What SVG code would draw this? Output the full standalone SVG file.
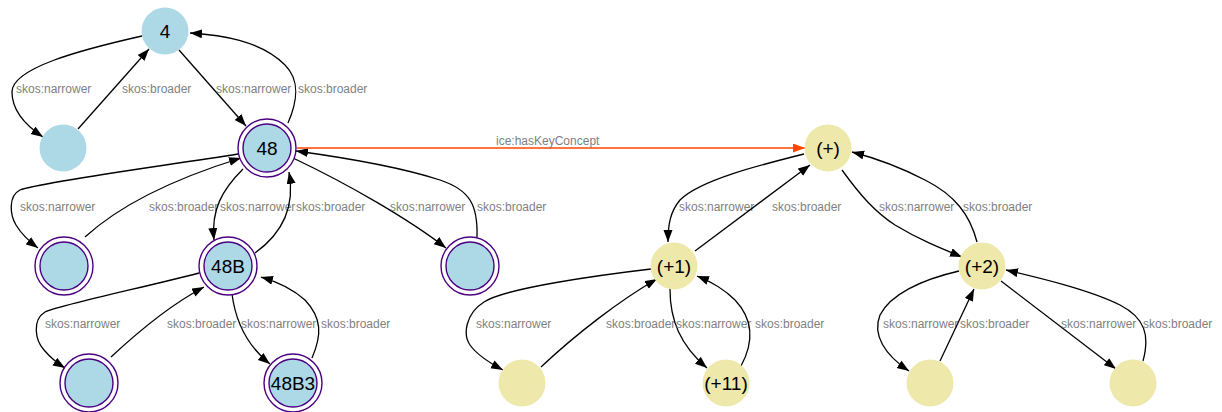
<svg xmlns="http://www.w3.org/2000/svg" width="1222" height="412" viewBox="0 0 1222 412">
<style>
.e{fill:none;stroke:#000;stroke-width:1.3;marker-end:url(#ah)}
.ek{fill:none;stroke:#ff4500;stroke-width:1.5;marker-end:url(#ao)}
.el{font-family:"Liberation Sans",Arial,sans-serif;font-size:12px;fill:#7f7f7f}
.b{fill:#add8e6;stroke:none}
.y{fill:#eee8aa;stroke:none}
.ro{fill:#fff;stroke:#4b0082;stroke-width:1.4}
.ri{fill:#add8e6;stroke:#4b0082;stroke-width:1.4}
.t{font-family:"Liberation Sans",Arial,sans-serif;font-size:19px;fill:#000;text-anchor:middle}
</style>
<defs>
<marker id="ah" markerUnits="userSpaceOnUse" markerWidth="13" markerHeight="10" refX="12" refY="4.5" orient="auto"><path d="M0,0 L12,4.5 L0,9 z" fill="#000"/></marker>
<marker id="ao" markerUnits="userSpaceOnUse" markerWidth="13" markerHeight="10" refX="12" refY="4.5" orient="auto"><path d="M0,0 L12,4.5 L0,9 z" fill="#ff4500"/></marker>
</defs>
<rect width="1222" height="412" fill="#fff"/>
<g id="connectors">
<path class="e" d="M142,36 C80,50 12,68 12,92 C12,110 25,125 43,137"/>
<text class="el" x="16" y="93">skos:narrower</text>
<path class="e" d="M78,129 L149,49"/>
<text class="el" x="122" y="93">skos:broader</text>
<path class="e" d="M179,50 L246,126"/>
<text class="el" x="216" y="93">skos:narrower</text>
<path class="e" d="M288,123 C298,100 300,80 285,65 C260,40 220,35 190,33"/>
<text class="el" x="298" y="93">skos:broader</text>
<path class="e" d="M238,154 C170,165 40,182 20,190 C8,196 10,215 16,225 C22,235 30,242 38,248"/>
<text class="el" x="20" y="211">skos:narrower</text>
<path class="e" d="M85,237 C120,205 170,180 241,158"/>
<text class="el" x="149" y="211">skos:broader</text>
<path class="e" d="M243,169 C222,190 211,210 214,240"/>
<text class="el" x="220" y="211">skos:narrower</text>
<path class="e" d="M255,253 C280,235 296,210 289,172"/>
<text class="el" x="296" y="211">skos:broader</text>
<path class="e" d="M293,158 C350,185 410,220 446,248"/>
<text class="el" x="390" y="211">skos:narrower</text>
<path class="e" d="M477,237 C478,205 470,190 440,180 C400,167 340,157 296,151"/>
<text class="el" x="477" y="211">skos:broader</text>
<path class="e" d="M199,273 C150,286 60,305 45,312 C32,320 35,340 44,350 C50,357 57,363 65,368"/>
<text class="el" x="45" y="328">skos:narrower</text>
<path class="e" d="M111,357 C140,330 170,305 204,287"/>
<text class="el" x="167" y="328">skos:broader</text>
<path class="e" d="M232,294 C236,325 250,348 270,364"/>
<text class="el" x="241" y="328">skos:narrower</text>
<path class="e" d="M312,358 C322,335 322,318 305,300 C292,288 275,281 261,277"/>
<text class="el" x="321" y="328">skos:broader</text>
<path class="ek" d="M297,148 L805,148"/>
<text class="el" x="496" y="145">ice:hasKeyConcept</text>
<path class="e" d="M804,154 C760,165 700,180 680,200 C670,212 668,225 668,242"/>
<text class="el" x="679" y="211">skos:narrower</text>
<path class="e" d="M695,251 L810,165"/>
<text class="el" x="772" y="211">skos:broader</text>
<path class="e" d="M842,170 C860,195 875,212 895,225 C920,240 940,248 962,257"/>
<text class="el" x="879" y="211">skos:narrower</text>
<path class="e" d="M977,242 C970,215 955,195 925,180 C900,167 875,158 852,152"/>
<text class="el" x="963" y="211">skos:broader</text>
<path class="e" d="M651,269 C600,275 505,288 484,302 C465,314 463,335 470,345 C477,355 488,362 503,370"/>
<text class="el" x="476" y="328">skos:narrower</text>
<path class="e" d="M541,367 C575,335 620,300 657,279"/>
<text class="el" x="606" y="328">skos:broader</text>
<path class="e" d="M670,289 C670,320 680,345 707,368"/>
<text class="el" x="676" y="328">skos:narrower</text>
<path class="e" d="M741,366 C755,340 752,318 735,300 C725,290 712,282 697,276"/>
<text class="el" x="755" y="328">skos:broader</text>
<path class="e" d="M959,271 C920,280 890,295 880,315 C872,335 885,355 909,371"/>
<text class="el" x="883" y="328">skos:narrower</text>
<path class="e" d="M940,361 L974,289"/>
<text class="el" x="960" y="328">skos:broader</text>
<path class="e" d="M1001,281 L1116,369"/>
<text class="el" x="1061" y="328">skos:narrower</text>
<path class="e" d="M1143,361 C1150,335 1145,318 1120,305 C1090,290 1040,278 1006,270"/>
<text class="el" x="1143" y="328">skos:broader</text>
</g>
<g id="n4"><circle class="b" cx="165" cy="31" r="23.5"/><text class="t" x="165" y="38">4</text></g>
<g id="nA"><circle class="b" cx="63" cy="148" r="23.5"/></g>
<g id="n48"><circle class="ro" cx="267" cy="148" r="29"/><circle class="ri" cx="267" cy="148" r="24"/><text class="t" x="267" y="155">48</text></g>
<g id="nB"><circle class="ro" cx="64" cy="266" r="29"/><circle class="ri" cx="64" cy="266" r="24"/></g>
<g id="n48B"><circle class="ro" cx="228" cy="266" r="29"/><circle class="ri" cx="228" cy="266" r="24"/><text class="t" x="228" y="273">48B</text></g>
<g id="nC"><circle class="ro" cx="470" cy="266" r="29"/><circle class="ri" cx="470" cy="266" r="24"/></g>
<g id="nD"><circle class="ro" cx="89" cy="383" r="29"/><circle class="ri" cx="89" cy="383" r="24"/></g>
<g id="n48B3"><circle class="ro" cx="293" cy="383" r="29"/><circle class="ri" cx="293" cy="383" r="24"/><text class="t" x="293" y="390">48B3</text></g>
<g id="nP"><circle class="y" cx="828" cy="148" r="23.5"/><text class="t" x="828" y="155">(+)</text></g>
<g id="nP1"><circle class="y" cx="674" cy="266" r="23.5"/><text class="t" x="674" y="273">(+1)</text></g>
<g id="nP2"><circle class="y" cx="982" cy="266" r="23.5"/><text class="t" x="982" y="273">(+2)</text></g>
<g id="nE"><circle class="y" cx="522" cy="383" r="23.5"/></g>
<g id="nP11"><circle class="y" cx="726" cy="383" r="23.5"/><text class="t" x="726" y="390">(+11)</text></g>
<g id="nF"><circle class="y" cx="930" cy="383" r="23.5"/></g>
<g id="nG"><circle class="y" cx="1133" cy="383" r="23.5"/></g>
</svg>
